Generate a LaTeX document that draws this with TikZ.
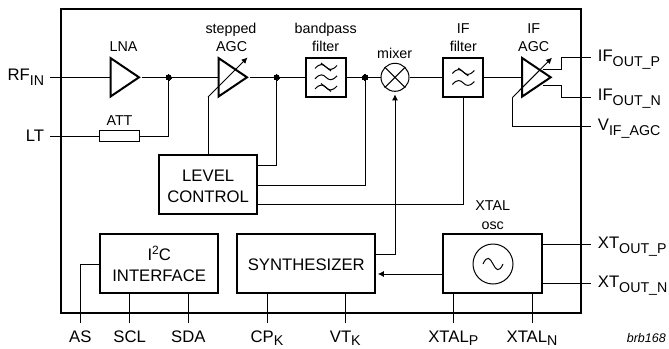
\documentclass[tikz,border=0pt]{standalone}
\usepackage{fontspec}
\setmainfont{Liberation Sans}
\usetikzlibrary{shapes.geometric,arrows.meta}
\newcommand{\pinsub}[2][5pt]{\raisebox{-#1}{\fontsize{14.2}{14}\selectfont #2}}
\newcommand{\wavy}[2]{%
    \draw[thin line] (#1-11,#2+1.5) .. controls (#1-6,#2-4) and (#1-3,#2-3) .. (#1,#2)
        .. controls (#1+3,#2+3) and (#1+6,#2+4) .. (#1+11,#2-1.5);
}
\newcommand{\wavytick}[2]{%
    \draw[thin line] (#1-5,#2-4) -- (#1+5,#2+4);
}
\tikzset{%
    thin line/.style={%
        line width=1pt
    },
    block/.style={%
        draw, line width=2pt, inner sep=0pt, align=center
    },
    amp/.style={%
        draw, line width=2pt, shape=isosceles triangle, isosceles triangle stretches,
        minimum width=38.5pt, minimum height=28.5pt, inner sep=0pt, anchor=lower side
    },
    junct/.style={%
        draw, shape=circle, fill, inner sep=2pt, line width=0pt
    },
    pin/.style={%
        inner sep=0pt, anchor=base, font=\fontsize{16.7}{20}\selectfont
    },
    note/.style={%
        inner sep=0pt, anchor=base, font=\fontsize{14.3}{14}\selectfont
    }
}
\begin{document}
\begin{tikzpicture}[x=1pt,y=-1pt]
    \useasboundingbox (0,0) rectangle (669,348);
    % package outline
    \draw[line width=2pt] (61,8.7) rectangle (581,313.3);

    % signal path
    \node[amp] (lna) at (109.5,77.3) {};
    \node[amp] (agc) at (217.5,77.3) {};
    \node[block, minimum width=40pt, minimum height=39.5pt] (bpf) at (326,77.3) {};
    \node[draw, thin line, shape=circle, minimum size=28pt, inner sep=0pt] (mix) at (395,77.3) {};
    \node[block, minimum width=40pt, minimum height=39.5pt] (iff) at (463.3,77.3) {};
    \node[amp] (ifagc) at (521.2,77.3) {};
    \node[draw, thin line, minimum width=39.5pt, minimum height=11.5pt, inner sep=0pt] (att) at (119.7,136) {};
    \node[junct] (j1) at (168.7,77.3) {};
    \node[junct] (j2) at (276.7,77.3) {};
    \node[junct] (j3) at (365,77.3) {};

    % control and bottom blocks
    \node[block, minimum width=98.5pt, minimum height=59.3pt] (level) at (208.2,184.7) {};
    \node[block, minimum width=118.3pt, minimum height=59pt] (i2c) at (159.2,263.8) {};
    \node[block, minimum width=138pt, minimum height=59pt] (synth) at (306.3,263.8) {};
    \node[block, minimum width=99pt, minimum height=59pt] (osc) at (492.8,263.8) {};
    \node[draw, thin line, shape=circle, minimum size=40pt, inner sep=0pt] (sine) at (493,264) {};

    % block texts
    \node[pin] (levelA) at (208.2,181.7) {LEVEL};
    \node[pin] (levelB) at (208.2,202.3) {CONTROL};
    \node[pin] (i2cA) at (159.2,260) {I\raisebox{5.5pt}{\fontsize{12}{12}\selectfont 2}C};
    \node[pin] (i2cB) at (159.2,281) {INTERFACE};
    \node[pin] (synthA) at (306.3,270) {SYNTHESIZER};

    % notes
    \node[note] (lnaT) at (123.5,51.7) {LNA};
    \node[note] (agcA) at (231,33.5) {stepped};
    \node[note] (agcB) at (231.7,51.7) {AGC};
    \node[note] (attT) at (119.5,125) {ATT};
    \node[note] (bpfA) at (325.7,33.5) {bandpass};
    \node[note] (bpfB) at (325.7,51.7) {filter};
    \node[note] (mixT) at (394.7,58.3) {mixer};
    \node[note] (iffA) at (463.3,33.5) {IF};
    \node[note] (iffB) at (463.3,51.7) {filter};
    \node[note] (ifagcA) at (533.7,33.5) {IF};
    \node[note] (ifagcB) at (533.7,51.7) {AGC};
    \node[note] (oscA) at (492.7,210.7) {XTAL};
    \node[note] (oscB) at (492.7,229) {osc};
    \node[note, font=\fontsize{12.5}{12}\itshape, anchor=base east] (code) at (666,342.7) {brb168};

    % pins
    \node[pin, anchor=base east] (rfin) at (44.3,80.3) {RF\pinsub{IN}};
    \node[pin, anchor=base east] (lt) at (44.3,141.7) {LT};
    \node[pin, anchor=base west] (ifp) at (597.7,61.7) {IF\pinsub{OUT\_P}};
    \node[pin, anchor=base west] (ifn) at (597.7,100.3) {IF\pinsub{OUT\_N}};
    \node[pin, anchor=base west] (vif) at (597.7,130) {V\pinsub{IF\_AGC}};
    \node[pin, anchor=base west] (xtp) at (597.7,248.3) {XT\pinsub{OUT\_P}};
    \node[pin, anchor=base west] (xtn) at (597.7,287.7) {XT\pinsub{OUT\_N}};
    \node[pin] (as) at (80.3,342.7) {AS};
    \node[pin] (scl) at (129.7,342.7) {SCL};
    \node[pin] (sda) at (188.3,342.7) {SDA};
    \node[pin] (cpk) at (267,342.7) {CP\pinsub[3pt]{K}};
    \node[pin] (vtk) at (345.3,342.7) {VT\pinsub[3pt]{K}};
    \node[pin] (xtalp) at (453.3,342.7) {XTAL\pinsub[3pt]{P}};
    \node[pin] (xtaln) at (532,342.7) {XTAL\pinsub[3pt]{N}};

    % free ends of the connectors
    \coordinate (rfinE) at (50,77.3);
    \coordinate (ltE) at (50,136);
    \coordinate (ifpE) at (591,57.7);
    \coordinate (ifnE) at (591,97);
    \coordinate (vifE) at (591,126.3);
    \coordinate (xtpE) at (591,244.3);
    \coordinate (xtnE) at (591,283.7);
    \coordinate (asE) at (80.3,322.7);
    \coordinate (sclE) at (129.7,322.7);
    \coordinate (sdaE) at (188.3,322.7);
    \coordinate (cpkE) at (267,322.7);
    \coordinate (vtkE) at (345.3,322.7);
    \coordinate (xtalpE) at (453.3,322.7);
    \coordinate (xtalnE) at (532,322.7);
    \coordinate (agcT) at (208,97);
    \coordinate (agcH) at (247.5,57.5);
    \coordinate (ifagcT) at (512.3,97.7);
    \coordinate (ifagcH) at (552,57.7);
    \coordinate (ifpS) at (543,69.7);
    \coordinate (ifnS) at (543,85.3);

    % connectors
    \draw[thin line]
        (rfinE) -- (lna.lower side)
        (lna.apex) -- (agc.lower side)
        (agc.apex) -- (bpf)
        (bpf) -- (mix)
        (mix) -- (iff)
        (iff) -- (ifagc.lower side)
        (ltE) -- (att)
        (att) -| (j1)
        (agcT) -- (level.north -| agcT)
        (j2) |- (257.5,165.5)
        (j3) |- (257.5,185)
        (iff) |- (257.5,204.7)
        (ifpS) -- (561.7,69.7) |- (ifpE)
        (ifnS) -- (561.7,85.3) |- (ifnE)
        (ifagcT) |- (vifE)
        (i2c.west |- 0,264) -| (asE)
        (i2c.south -| sclE) -- (sclE)
        (i2c.south -| sdaE) -- (sdaE)
        (synth.south -| cpkE) -- (cpkE)
        (synth.south -| vtkE) -- (vtkE)
        (osc.south -| xtalpE) -- (xtalpE)
        (osc.south -| xtalnE) -- (xtalnE)
        (osc.east |- xtpE) -- (xtpE)
        (osc.east |- xtnE) -- (xtnE)
        ;
    \draw[thin line, -{Latex[length=6pt,width=6pt]}] (agcT) -- (agcH);
    \draw[thin line, -{Latex[length=6pt,width=6pt]}] (ifagcT) -- (ifagcH);
    \draw[thin line, shorten >=2.5pt, -{Latex[length=6pt,width=6pt]}] (synth.east |- 0,254) -| (mix.south);
    \draw[thin line, shorten >=1.5pt, -{Latex[length=6pt,width=6pt]}] (osc.west |- 0,274) -- (synth.east |- 0,274);

    % mixer cross
    \draw[thin line] (mix.45) -- (mix.225) (mix.135) -- (mix.315);
    % sine
    \draw[thin line] (483,264) .. controls (487,255) and (490,258) .. (493,264)
        .. controls (496,270) and (499,273) .. (503,264);
    % filter glyphs
    \wavy{326}{67}
    \wavytick{326}{67}
    \wavy{326}{77.3}
    \wavy{326}{87.5}
    \wavytick{326}{87.5}
    \wavy{463.3}{72}
    \wavytick{463.3}{72}
    \wavy{463.3}{83}
\end{tikzpicture}
\end{document}
